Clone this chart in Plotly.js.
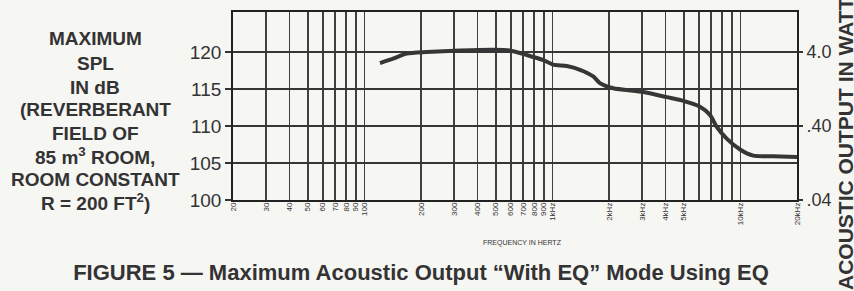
<!DOCTYPE html>
<html><head><meta charset="utf-8">
<script src="https://cdn.plot.ly/plotly-3.0.1.min.js"></script>
<style>html,body{margin:0;padding:0;background:#f6f6f3;}#chart{width:854px;height:291px;}</style>
</head><body><div id="chart"></div>
<script>
// Data
const freqHz = [121,142,168,214,322,485,594,730,895,1010,1191,1402,1650,1789,2108,3049,4058,4970,6096,6889,7478,8454,10000,11720,14960,20000];
const splDb  = [118.5,119.1,119.8,120.0,120.2,120.3,120.2,119.6,118.9,118.3,118.1,117.6,116.7,115.8,115.1,114.6,113.9,113.4,112.6,111.5,109.9,108.3,106.8,106.0,105.9,105.8];

const xGridVals = [20,30,40,50,60,70,80,90,100,200,300,400,500,600,700,800,900,1000,2000,3000,4000,5000,6000,7000,8000,9000,10000,20000];
const xLabelVals = [20,30,40,50,60,70,80,90,100,200,300,400,500,600,700,800,900,1000,2000,3000,4000,5000,10000,20000];
const xTickText = ["20","30","40","50","60","70","80","90","100","200","300","400","500","600","700","800","900","1kHz","2kHz","3kHz","4kHz","5kHz","10kHz","20kHz"];
const yTickVals = [100,105,110,115,120];
const yTickText = ["100","105","110","115","120"];
const wattVals = [0.04,0.4,4];
const wattText = [".04",".40","4.0"];
const leftLabel = ["MAXIMUM","SPL","IN dB","(REVERBERANT","FIELD OF","85 m<sup>3</sup> ROOM,","ROOM CONSTANT","R = 200 FT<sup>2</sup>)"];

const ink = '#333333';
const font = 'Liberation Sans, Arial, Helvetica, sans-serif';
const narrow = 'Liberation Sans Narrow, Liberation Sans, sans-serif';
const L = 233, T = 12, W = 564, H = 188;
const px2x = p => (p - L) / W;
const py2y = p => (T + H - p) / H;
const lineY = [39,63,87,110,133,156,179,202];

const annotations = leftLabel.map((t,i) => ({
  text: t, xref:'paper', yref:'paper', x: px2x(95), y: py2y(lineY[i]),
  xanchor:'center', yanchor:'middle', showarrow:false,
  font:{family:font, size:19, color:ink, weight:'bold'}
}));
annotations.push({
  text:'FREQUENCY IN HERTZ', xref:'paper', yref:'paper', x: px2x(522), y: py2y(243),
  xanchor:'center', yanchor:'middle', showarrow:false,
  font:{family:narrow, size:7, color:ink}
});
annotations.push({
  text:'ACOUSTIC OUTPUT IN WATTS', xref:'paper', yref:'paper', x: px2x(845), y: py2y(292),
  xanchor:'center', yanchor:'bottom', textangle:-90, showarrow:false,
  font:{family:font, size:21, color:ink, weight:'bold'}
});

const traces = [
  {x: freqHz, y: splDb, type:'scatter', mode:'lines', line:{color:'#363636', width:4, shape:'spline', smoothing:0.6}, hoverinfo:'none', showlegend:false},
  {x: [], y: [], yaxis:'y2', type:'scatter', mode:'lines', showlegend:false, hoverinfo:'none'},
  {x: [], y: [], xaxis:'x2', type:'scatter', mode:'lines', showlegend:false, hoverinfo:'none'}
];

const xr = [Math.log10(20), Math.log10(20000)];
const layout = {
  width:854, height:291,
  margin:{l:L, r:854-L-W, t:T, b:291-T-H, pad:0},
  paper_bgcolor:'#f6f6f3', plot_bgcolor:'#f6f6f3',
  showlegend:false,
  title:{text:'FIGURE 5 — Maximum Acoustic Output “With EQ” Mode Using EQ', x:421/854, xanchor:'center', y:1-272/291, yanchor:'middle',
         font:{family:font, size:22, color:ink, weight:'bold'}},
  xaxis:{type:'log', range:xr, tickmode:'array', tickvals:xGridVals, showticklabels:false,
         showgrid:true, gridcolor:'#404040', gridwidth:1.8, ticks:'', zeroline:false,
         showline:true, linecolor:'#222', linewidth:1.8, mirror:true},
  xaxis2:{type:'log', range:xr, overlaying:'x', side:'bottom', tickmode:'array', tickvals:xLabelVals, ticktext:xTickText,
         tickangle:-90, tickfont:{family:narrow, size:8, color:ink}, ticks:'', showgrid:false, zeroline:false, showline:false},
  yaxis:{range:[100, 100+H/7.4], tickmode:'array', tickvals:yTickVals, ticktext:yTickText,
         tickfont:{family:font, size:19, color:ink}, ticks:'outside', ticklen:6, tickcolor:'#333', tickwidth:1.5,
         showgrid:true, gridcolor:'#363636', gridwidth:1.8, zeroline:false,
         showline:true, linecolor:'#222', linewidth:1.8, mirror:true},
  yaxis2:{type:'log', overlaying:'y', side:'right', range:[-1.4, (H/7.4-14)/10], tickmode:'array', tickvals:wattVals, ticktext:wattText,
         tickfont:{family:font, size:18, color:ink}, ticks:'outside', ticklen:5, tickcolor:'#333', tickwidth:1.5,
         showgrid:false, zeroline:false, showline:false},
  annotations: annotations
};
Plotly.newPlot('chart', traces, layout, {staticPlot:true, displayModeBar:false});
</script></body></html>
